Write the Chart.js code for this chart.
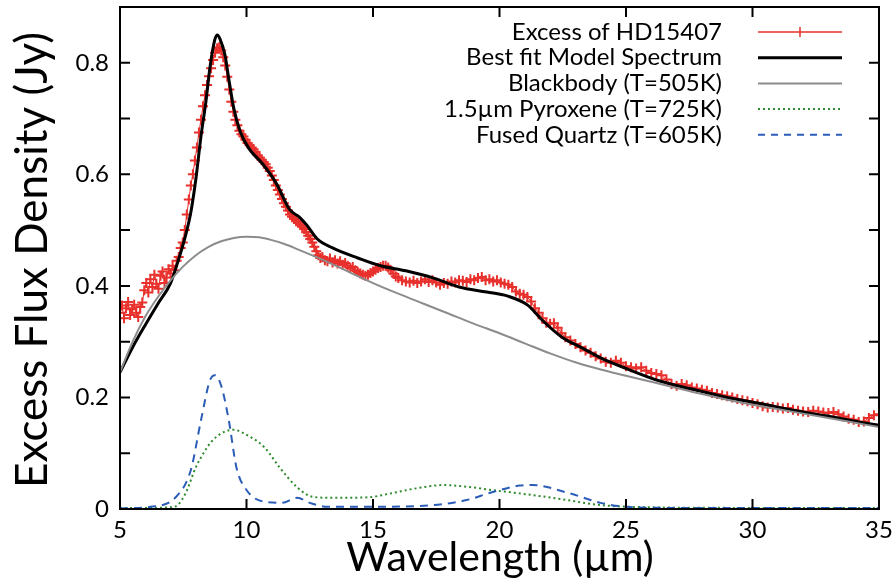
<!DOCTYPE html>
<html>
<head>
<meta charset="utf-8">
<script src="https://cdn.jsdelivr.net/npm/chart.js"></script>
<style>
  html, body { margin: 0; padding: 0; background: #fff; }
  #wrap { width: 892px; height: 585px; position: relative; }
</style>
</head>
<body>
<div id="wrap"><canvas id="c"></canvas></div>
<script>
// ── data ────────────────────────────────────────────────────────────────────
const xTicks = [5, 10, 15, 20, 25, 30, 35];
const yTicks = [0, 0.1, 0.2, 0.3, 0.4, 0.5, 0.6, 0.7, 0.8, 0.9];
const yLabels = [0, 0.2, 0.4, 0.6, 0.8];
const xTitle = 'Wavelength (\u00b5m)';
const yTitle = 'Excess Flux Density (Jy)';

// observed excess spectrum of HD15407: [wavelength (um), flux (Jy)]
const excess = [
  [5.00,0.352],[5.08,0.365],[5.16,0.342],[5.24,0.360],[5.32,0.371],[5.40,0.348],[5.48,0.358],[5.56,0.366],
  [5.64,0.352],[5.72,0.344],[5.80,0.362],[5.88,0.370],[5.96,0.392],[6.04,0.405],[6.12,0.388],[6.20,0.412],
  [6.28,0.398],[6.36,0.420],[6.44,0.404],[6.52,0.395],[6.60,0.418],[6.68,0.426],[6.76,0.405],[6.84,0.415],
  [6.92,0.430],[7.00,0.422],[7.08,0.436],[7.16,0.428],[7.24,0.445],[7.32,0.452],[7.40,0.468],[7.48,0.478],
  [7.56,0.500],[7.64,0.528],[7.72,0.555],[7.80,0.580],[7.88,0.600],[7.96,0.625],[8.04,0.648],[8.12,0.675],
  [8.20,0.698],[8.28,0.722],[8.36,0.742],[8.44,0.760],[8.52,0.776],[8.60,0.790],[8.68,0.805],[8.76,0.818],
  [8.84,0.826],[8.92,0.828],[9.00,0.822],[9.08,0.810],[9.16,0.795],[9.24,0.775],[9.32,0.752],[9.40,0.730],
  [9.48,0.712],[9.56,0.698],[9.64,0.688],[9.72,0.678],[9.80,0.672],[9.88,0.668],[9.96,0.662],[10.04,0.656],
  [10.12,0.652],[10.20,0.648],[10.28,0.645],[10.36,0.640],[10.44,0.634],[10.52,0.630],[10.60,0.626],[10.68,0.622],
  [10.76,0.618],[10.84,0.612],[10.92,0.606],[11.00,0.598],[11.08,0.590],[11.16,0.580],[11.24,0.572],[11.32,0.564],
  [11.40,0.556],[11.48,0.548],[11.56,0.542],[11.64,0.535],[11.72,0.528],[11.80,0.524],[11.88,0.520],[11.96,0.516],
  [12.04,0.514],[12.12,0.510],[12.20,0.506],[12.28,0.502],[12.36,0.496],[12.44,0.490],[12.52,0.484],[12.60,0.478],
  [12.68,0.470],[12.76,0.462],[12.84,0.455],[12.92,0.450],[13.00,0.452],[13.10,0.446],[13.20,0.444],[13.30,0.449],
  [13.40,0.442],[13.50,0.446],[13.60,0.440],[13.70,0.444],[13.80,0.438],[13.90,0.441],[14.00,0.436],[14.10,0.432],
  [14.20,0.434],[14.30,0.428],[14.40,0.425],[14.50,0.422],[14.60,0.420],[14.70,0.418],[14.80,0.420],[14.90,0.423],
  [15.00,0.426],[15.10,0.429],[15.20,0.432],[15.30,0.434],[15.40,0.436],[15.50,0.436],[15.60,0.433],[15.70,0.428],
  [15.80,0.422],[15.90,0.417],[16.00,0.414],[16.15,0.410],[16.30,0.408],[16.45,0.406],[16.60,0.409],[16.75,0.405],
  [16.90,0.408],[17.05,0.412],[17.20,0.407],[17.35,0.410],[17.50,0.406],[17.65,0.402],[17.80,0.405],[17.95,0.404],
  [18.10,0.408],[18.25,0.406],[18.40,0.410],[18.55,0.409],[18.70,0.407],[18.85,0.412],[19.00,0.410],[19.15,0.414],
  [19.30,0.416],[19.45,0.410],[19.60,0.412],[19.75,0.408],[19.90,0.410],[20.05,0.406],[20.20,0.404],[20.35,0.402],
  [20.50,0.398],[20.65,0.390],[20.80,0.386],[20.95,0.384],[21.10,0.380],[21.25,0.372],[21.40,0.360],[21.55,0.352],
  [21.70,0.342],[21.85,0.334],[22.00,0.332],[22.15,0.333],[22.30,0.325],[22.45,0.315],[22.60,0.308],[22.80,0.302],
  [23.00,0.296],[23.20,0.290],[23.40,0.284],[23.60,0.280],[23.80,0.274],[24.00,0.270],[24.20,0.264],[24.40,0.262],
  [24.60,0.266],[24.80,0.262],[25.00,0.256],[25.20,0.254],[25.40,0.252],[25.60,0.254],[25.80,0.248],[26.00,0.244],
  [26.20,0.242],[26.40,0.240],[26.60,0.232],[26.80,0.224],[27.00,0.221],[27.20,0.224],[27.40,0.222],[27.60,0.218],
  [27.80,0.216],[28.00,0.214],[28.20,0.212],[28.40,0.208],[28.60,0.206],[28.80,0.204],[29.00,0.202],[29.20,0.200],
  [29.40,0.197],[29.60,0.195],[29.80,0.193],[30.00,0.190],[30.20,0.188],[30.40,0.184],[30.60,0.182],[30.80,0.183],
  [31.00,0.182],[31.20,0.180],[31.40,0.181],[31.60,0.178],[31.80,0.176],[32.00,0.175],[32.20,0.174],[32.40,0.176],
  [32.60,0.175],[32.80,0.173],[33.00,0.172],[33.20,0.174],[33.40,0.170],[33.60,0.166],[33.80,0.162],[34.00,0.160],
  [34.20,0.156],[34.40,0.157],[34.60,0.163],[34.80,0.168],[35.00,0.170]
];

// best fit model spectrum
const model = [
  [5.0,0.245],[5.5,0.290],[6.0,0.330],[6.5,0.368],[7.0,0.405],[7.3,0.445],[7.6,0.492],[7.8,0.532],
  [8.0,0.592],[8.2,0.668],[8.4,0.732],[8.55,0.790],[8.75,0.842],[8.85,0.850],[8.95,0.843],[9.15,0.814],
  [9.3,0.771],[9.5,0.718],[9.75,0.677],[10.1,0.646],[10.65,0.618],[11.2,0.582],[11.7,0.537],[12.1,0.523],
  [12.4,0.508],[12.8,0.484],[13.4,0.468],[14.4,0.450],[15.3,0.436],[16.3,0.427],[17.4,0.414],[18.4,0.398],
  [19.5,0.389],[20.3,0.382],[21.1,0.366],[21.7,0.338],[22.5,0.307],[23.3,0.288],[24.0,0.271],[25.0,0.252],
  [26.3,0.230],[27.6,0.215],[29.0,0.200],[30.3,0.189],[31.6,0.177],[32.9,0.167],[34.2,0.156],[35.0,0.150]
];

// blackbody T=505K
const blackbody = [
  [5.0,0.245],[5.5,0.300],[6.0,0.345],[6.5,0.380],[7.0,0.410],[7.5,0.435],[8.0,0.455],[8.5,0.470],
  [9.0,0.480],[9.5,0.486],[10.0,0.488],[10.5,0.487],[11.0,0.482],[11.5,0.475],[12.0,0.466],[13.0,0.447],
  [14.0,0.426],[15.0,0.405],[16.0,0.386],[17.0,0.368],[18.0,0.350],[19.0,0.332],[20.0,0.315],[21.0,0.297],
  [22.0,0.279],[23.0,0.263],[24.0,0.250],[25.0,0.239],[26.0,0.228],[27.0,0.217],[28.0,0.206],[29.0,0.196],
  [30.0,0.187],[31.0,0.179],[32.0,0.171],[33.0,0.163],[34.0,0.155],[35.0,0.147]
];

// 1.5um pyroxene T=725K
const pyroxene = [
  [5.0,0.002],[6.0,0.002],[7.0,0.003],[7.3,0.008],[7.6,0.029],[8.0,0.075],[8.3,0.100],[8.6,0.120],
  [9.1,0.138],[9.5,0.142],[10.0,0.133],[10.7,0.111],[11.3,0.075],[12.0,0.039],[12.6,0.022],[13.4,0.020],
  [14.8,0.021],[15.7,0.028],[16.7,0.037],[17.8,0.043],[18.7,0.040],[19.7,0.034],[20.8,0.028],[22.4,0.018],
  [24.0,0.007],[26.0,0.003],[30.0,0.002],[35.0,0.002]
];

// fused quartz T=605K
const quartz = [
  [5.0,0.001],[6.2,0.004],[7.2,0.021],[7.8,0.070],[8.2,0.159],[8.55,0.230],[8.75,0.240],[9.0,0.221],
  [9.3,0.159],[9.6,0.075],[10.0,0.034],[10.7,0.013],[11.4,0.011],[12.0,0.020],[12.5,0.011],[13.2,0.004],
  [14.8,0.004],[17.4,0.007],[18.7,0.016],[19.7,0.030],[20.8,0.042],[21.3,0.043],[22.7,0.029],[24.0,0.011],
  [25.0,0.004],[27.0,0.002],[35.0,0.002]
];

const legendLabels = [
  'Excess of HD15407',
  'Best fit Model Spectrum',
  'Blackbody (T=505K)',
  '1.5\u00b5m Pyroxene (T=725K)',
  'Fused Quartz (T=605K)'
];

const RED = '#e8302c', GREEN = '#2e8b2e', BLUE = '#2a5cb8', GREY = '#8c8c8c';
const FONT = 'Lato, "Open Sans", sans-serif';
const toXY = a => a.map(p => ({ x: p[0], y: p[1] }));

// frame, inward ticks on all four sides, axis titles and the legend
const framePlugin = {
  id: 'frame',
  afterDatasetsDraw(chart) {
    const { ctx, chartArea: a, scales: { x, y } } = chart;
    ctx.save();
    ctx.strokeStyle = '#000';
    ctx.lineWidth = 2;
    ctx.strokeRect(a.left, a.top, a.right - a.left, a.bottom - a.top);
    ctx.beginPath();
    xTicks.forEach(v => {
      const px = x.getPixelForValue(v);
      ctx.moveTo(px, a.bottom); ctx.lineTo(px, a.bottom - 10);
      ctx.moveTo(px, a.top); ctx.lineTo(px, a.top + 10);
    });
    yTicks.forEach(v => {
      const py = y.getPixelForValue(v);
      ctx.moveTo(a.left, py); ctx.lineTo(a.left + 10, py);
      ctx.moveTo(a.right, py); ctx.lineTo(a.right - 10, py);
    });
    ctx.stroke();

    // axis titles
    ctx.fillStyle = '#000';
    ctx.textAlign = 'center';
    ctx.textBaseline = 'middle';
    ctx.font = '41px ' + FONT;
    ctx.fillText(xTitle, 500, 558);
    ctx.save();
    ctx.translate(33, 260);
    ctx.rotate(-Math.PI / 2);
    ctx.font = '44px ' + FONT;
    ctx.fillText(yTitle, 0, 0);
    ctx.restore();

    // legend (text right-aligned, sample to the right)
    const styles = [
      { c: RED, w: 1.5, d: [], cross: true },
      { c: '#000', w: 3, d: [] },
      { c: GREY, w: 2, d: [] },
      { c: GREEN, w: 2, d: [2, 3] },
      { c: BLUE, w: 2, d: [7, 6] }
    ];
    ctx.font = '24px ' + FONT;
    ctx.textAlign = 'right';
    legendLabels.forEach((t, i) => {
      const ly = 32 + i * 25.7;
      ctx.fillStyle = '#000';
      ctx.fillText(t, 722, ly);
      const s = styles[i];
      ctx.strokeStyle = s.c;
      ctx.lineWidth = s.w;
      ctx.setLineDash(s.d);
      ctx.beginPath();
      ctx.moveTo(758, ly); ctx.lineTo(842, ly);
      if (s.cross) { ctx.moveTo(800, ly - 5); ctx.lineTo(800, ly + 5); }
      ctx.stroke();
      ctx.setLineDash([]);
    });
    ctx.restore();
  }
};

new Chart(document.getElementById('c').getContext('2d'), {
  type: 'scatter',
  data: {
    datasets: [
      { label: legendLabels[0], data: toXY(excess), showLine: true, borderColor: RED, borderWidth: 1,
        pointStyle: 'cross', pointRadius: 5, pointBorderWidth: 2, pointBorderColor: RED, order: 5 },
      { label: legendLabels[1], data: toXY(model), showLine: true, borderColor: '#000', borderWidth: 3,
        pointRadius: 0, cubicInterpolationMode: 'monotone', order: 4 },
      { label: legendLabels[2], data: toXY(blackbody), showLine: true, borderColor: GREY, borderWidth: 2,
        pointRadius: 0, cubicInterpolationMode: 'monotone', order: 3 },
      { label: legendLabels[3], data: toXY(pyroxene), showLine: true, borderColor: GREEN, borderWidth: 2,
        borderDash: [2, 3], pointRadius: 0, cubicInterpolationMode: 'monotone', order: 2 },
      { label: legendLabels[4], data: toXY(quartz), showLine: true, borderColor: BLUE, borderWidth: 2,
        borderDash: [8, 6], pointRadius: 0, cubicInterpolationMode: 'monotone', order: 1 }
    ]
  },
  options: {
    responsive: true,
    maintainAspectRatio: false,
    animation: false,
    layout: { padding: { left: 0, right: 13, top: 6, bottom: 0 } },
    plugins: { legend: { display: false }, tooltip: { enabled: false } },
    scales: {
      x: {
        type: 'linear', min: 5, max: 35,
        afterFit: s => { s.height = 76; s.paddingLeft = 0; s.paddingRight = 0; },
        afterBuildTicks: s => { s.ticks = xTicks.map(v => ({ value: v })); },
        grid: { display: false, drawTicks: false },
        border: { display: false },
        ticks: { color: '#000', font: { family: FONT, size: 24 }, padding: 7, maxRotation: 0 },
        title: { display: false }
      },
      y: {
        type: 'linear', min: 0, max: 0.9,
        afterFit: s => { s.width = 120; s.paddingTop = 0; s.paddingBottom = 0; },
        afterBuildTicks: s => { s.ticks = yLabels.map(v => ({ value: v })); },
        grid: { display: false, drawTicks: false },
        border: { display: false },
        ticks: { color: '#000', font: { family: FONT, size: 24 }, padding: 11 },
        title: { display: false }
      }
    }
  },
  plugins: [framePlugin]
});
</script>
</body>
</html>
